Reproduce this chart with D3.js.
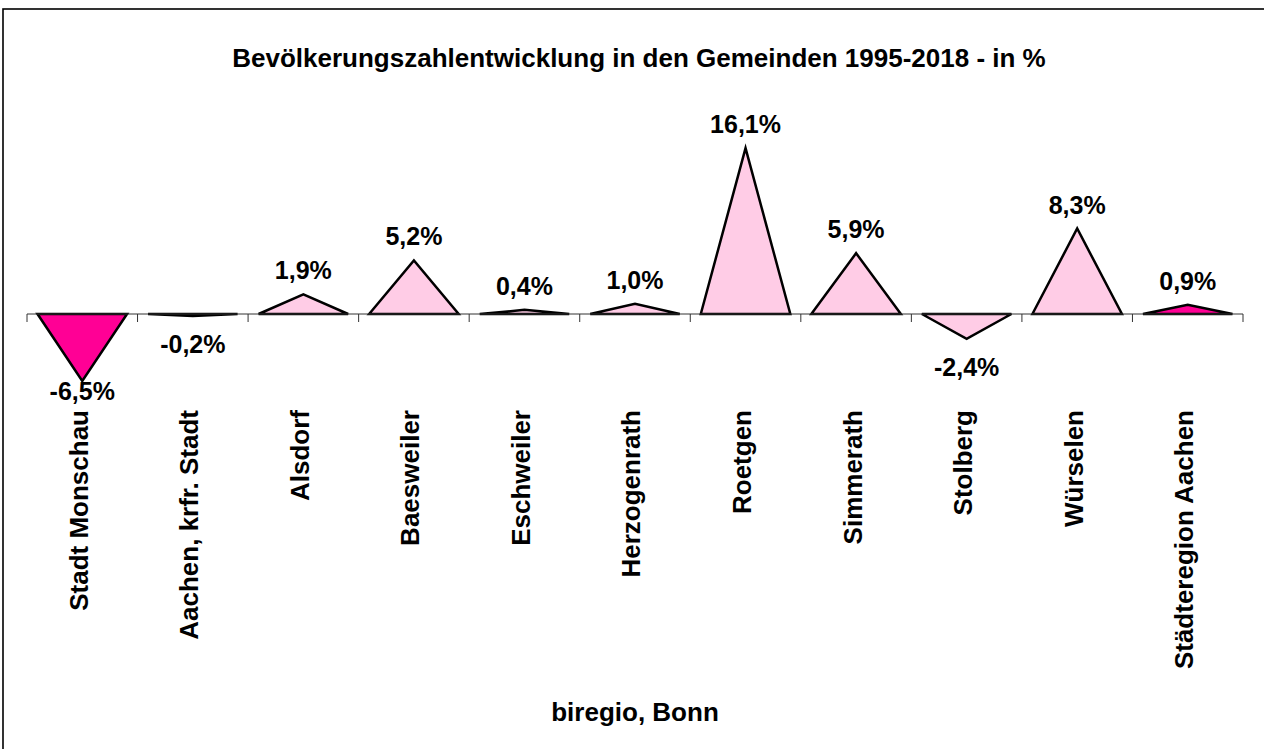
<!DOCTYPE html>
<html>
<head>
<meta charset="utf-8">
<script src="https://cdn.jsdelivr.net/npm/d3@7"></script>
<style>
  html, body { margin: 0; padding: 0; background: #fff; }
  svg { display: block; }
  text { font-family: Arial, "Liberation Sans", sans-serif; font-weight: bold; fill: #000; }
</style>
</head>
<body>
<script>
const categories = ["Stadt Monschau", "Aachen, krfr. Stadt", "Alsdorf", "Baesweiler", "Eschweiler",
  "Herzogenrath", "Roetgen", "Simmerath", "Stolberg", "Würselen", "Städteregion Aachen"];
const values = [-6.5, -0.2, 1.9, 5.2, 0.4, 1.0, 16.1, 5.9, -2.4, 8.3, 0.9];
const highlighted = ["Stadt Monschau", "Städteregion Aachen"];
const titleText = "Bevölkerungszahlentwicklung in den Gemeinden 1995-2018 - in %";
const sourceText = "biregio, Bonn";

const W = 1264, H = 749;
const svg = d3.select("body").append("svg").attr("width", W).attr("height", H);

// frame (left and top visible, extends beyond image)
svg.append("rect").attr("x", 3).attr("y", 9).attr("width", 1400).attr("height", 900)
  .attr("fill", "none").attr("stroke", "#000").attr("stroke-width", 1.6);

const x = d3.scaleBand().domain(categories).range([27, 1243]).padding(0);
const y = d3.scaleLinear().domain([-8, 18]).range([314 + 8 * 10.3, 314 - 18 * 10.3]);
const y0 = y(0);

// title
svg.append("text").attr("x", 639).attr("y", 67).attr("text-anchor", "middle")
  .style("font-size", "26px").text(titleText);

// triangles
const fmt = v => (v < 0 ? "-" : "") + d3.format(".1f")(Math.abs(v)).replace(".", ",") + "%";
const bw = x.bandwidth();
const tri = svg.append("g");
categories.forEach((c, i) => {
  const cx = x(c) + bw / 2;
  const hw = bw * 0.405;
  const v = values[i];
  tri.append("path")
    .attr("d", `M${cx - hw},${y0}L${cx},${y(v)}L${cx + hw},${y0}Z`)
    .attr("fill", highlighted.includes(c) ? "#FF0095" : "#FFCCE6")
    .attr("stroke", "#000").attr("stroke-width", 2.5).attr("stroke-linejoin", "miter");
});

// axis
const axis = d3.axisBottom(x).tickSize(8).tickFormat("");
const ag = svg.append("g").attr("transform", `translate(0,${y0})`).call(axis);
ag.select(".domain").remove();
ag.selectAll(".tick").remove();
ag.append("line").attr("x1", 27).attr("x2", 1243).attr("y1", 0).attr("y2", 0)
  .attr("stroke", "#333").attr("stroke-width", 1);
const edges = categories.map(c => x(c)).concat([x(categories[categories.length - 1]) + bw]);
ag.selectAll("line.tk").data(edges).enter().append("line").attr("class", "tk")
  .attr("x1", d => d).attr("x2", d => d).attr("y1", 0).attr("y2", 8)
  .attr("stroke", "#333").attr("stroke-width", 1);

// value labels
categories.forEach((c, i) => {
  const cx = x(c) + bw / 2;
  const v = values[i];
  const ty = v >= 0 ? y(v) - 15 : Math.min(y(v) + 37, 400);
  svg.append("text").attr("x", cx).attr("y", ty).attr("text-anchor", "middle")
    .style("font-size", "25px").text(fmt(v));
});

// category labels
categories.forEach(c => {
  const cx = x(c) + bw / 2;
  svg.append("text")
    .attr("transform", `translate(${cx},410) rotate(-90)`)
    .attr("text-anchor", "end").attr("dy", "0.21em")
    .style("font-size", "26px").text(c);
});

// source
svg.append("text").attr("x", 635).attr("y", 721).attr("text-anchor", "middle")
  .style("font-size", "26px").text(sourceText);
</script>
</body>
</html>
